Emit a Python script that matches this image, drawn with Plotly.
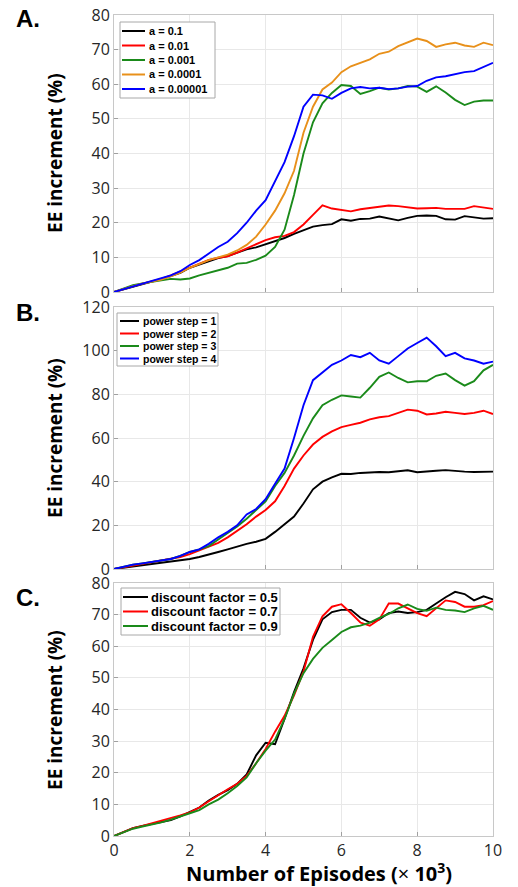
import plotly.graph_objects as go

x_grid = [i * 0.25 for i in range(41)]

# Panel A (learning rate a)
a_labels = ["a = 0.1", "a = 0.01", "a = 0.001", "a = 0.0001", "a = 0.00001"]
a_01 = [0, 0.8, 1.6, 2.3, 3.0, 3.7, 4.5, 5.5, 7.0, 8.0, 9.0, 9.8, 10.4, 11.3, 12.3, 12.9, 13.8, 14.8, 15.6, 16.8,
        17.8, 18.9, 19.3, 19.6, 21.0, 20.6, 21.1, 21.2, 21.8, 21.3, 20.7, 21.4, 22.0, 22.1, 22.0, 21.0, 20.9, 21.9, 21.6, 21.2, 21.3]
a_001 = [0, 0.9, 1.7, 2.4, 3.0, 3.8, 4.8, 5.9, 7.2, 8.3, 9.3, 9.9, 10.3, 11.4, 12.6, 13.8, 15.0, 15.8, 16.2, 17.3,
         19.5, 22.3, 25.0, 24.1, 23.7, 23.3, 23.9, 24.3, 24.6, 25.0, 24.8, 24.4, 24.1, 24.2, 24.3, 24.0, 24.1, 24.0, 24.8, 24.3, 24.0]
a_0001 = [0, 1.0, 2.0, 2.5, 2.9, 3.3, 3.8, 3.6, 3.9, 4.8, 5.5, 6.2, 7.0, 8.2, 8.4, 9.3, 10.5, 13.0, 18.0, 28.0,
          40.0, 49.0, 54.5, 57.5, 59.8, 59.5, 57.2, 58.0, 59.0, 58.5, 58.8, 59.5, 59.3, 57.8, 59.4, 57.6, 55.5, 54.0, 55.0, 55.3, 55.3]
a_00001 = [0, 0.9, 1.7, 2.4, 3.0, 3.6, 4.5, 5.6, 7.0, 8.2, 9.2, 10.0, 10.8, 12.0, 13.6, 16.0, 19.5, 23.5, 28.5, 35.0,
           46.0, 53.5, 58.5, 60.5, 63.5, 65.2, 66.3, 67.2, 68.8, 69.4, 71.0, 72.0, 73.2, 72.5, 70.8, 71.5, 72.0, 71.2, 70.8, 72.0, 71.3]
a_000001 = [0, 0.8, 1.6, 2.3, 3.0, 3.8, 4.8, 6.0, 7.8, 9.2, 11.0, 13.0, 14.5, 17.0, 20.0, 23.5, 26.5, 32.0, 37.5, 45.0,
            53.5, 57.0, 56.8, 55.8, 57.5, 58.8, 59.2, 58.8, 59.0, 58.6, 58.8, 59.3, 59.5, 61.0, 62.0, 62.3, 63.0, 63.5, 63.8, 65.0, 66.2]

# Panel B (power step)
b_labels = ["power step = 1", "power step = 2", "power step = 3", "power step = 4"]
b_ps1 = [0, 0.6, 1.2, 1.8, 2.3, 2.8, 3.3, 4.0, 4.6, 5.5, 6.5, 7.8, 9.0, 10.3, 11.5, 12.5, 13.8, 17.0, 20.5, 24.0,
         30.0, 36.5, 40.0, 42.0, 43.6, 43.5, 44.0, 44.3, 44.4, 44.3, 44.8, 45.2, 44.3, 44.5, 45.0, 45.3, 44.8, 44.6, 44.4, 44.5, 44.6]
b_ps2 = [0, 0.8, 1.6, 2.3, 3.0, 3.7, 4.5, 5.5, 6.8, 8.5, 10.0, 12.0, 14.5, 17.5, 20.5, 24.0, 27.0, 31.0, 38.0, 46.0,
         52.0, 57.0, 60.5, 63.0, 65.0, 66.0, 67.0, 68.5, 69.5, 70.0, 71.5, 73.0, 72.5, 70.8, 71.2, 72.0, 71.5, 71.0, 71.5, 72.5, 71.0]
b_ps3 = [0, 1.0, 2.0, 2.6, 3.2, 3.8, 4.6, 6.0, 7.8, 9.0, 10.5, 13.5, 16.5, 19.5, 23.0, 27.0, 31.0, 38.0, 44.0, 52.0,
         61.0, 69.0, 75.0, 77.5, 79.5, 79.0, 78.5, 83.0, 88.0, 90.0, 87.5, 85.5, 86.0, 86.0, 88.5, 89.5, 86.5, 84.0, 86.0, 91.0, 93.5]
b_ps4 = [0, 1.0, 2.0, 2.6, 3.2, 3.8, 4.6, 6.0, 7.8, 9.0, 11.5, 14.5, 17.0, 20.0, 25.0, 27.5, 32.0, 39.0, 46.0, 60.0,
         75.0, 86.5, 90.0, 93.5, 95.5, 98.0, 97.0, 99.0, 95.5, 94.0, 97.5, 101.0, 103.5, 106.0, 102.0, 97.5, 99.0, 96.5, 95.5, 94.0, 95.0]

# Panel C (discount factor)
c_labels = ["discount factor = 0.5", "discount factor = 0.7", "discount factor = 0.9"]
c_05 = [0, 1.2, 2.5, 3.2, 3.8, 4.5, 5.0, 6.2, 7.6, 9.0, 11.2, 13.0, 14.5, 16.5, 19.5, 25.5, 29.5, 29.0, 37.0, 45.5,
        53.0, 62.0, 68.5, 70.8, 71.5, 71.5, 69.0, 67.5, 68.5, 70.5, 71.0, 70.5, 70.8, 71.5, 73.5, 75.5, 77.2, 76.5, 74.5, 75.8, 74.8]
c_07 = [0, 1.2, 2.5, 3.2, 4.0, 4.8, 5.5, 6.5, 7.5, 9.0, 11.0, 13.0, 14.8, 16.5, 19.0, 23.0, 27.5, 33.0, 38.0, 44.5,
        52.0, 63.0, 69.5, 72.5, 73.3, 70.5, 67.5, 66.5, 68.5, 73.5, 73.5, 72.0, 70.5, 69.5, 72.0, 74.5, 74.0, 72.5, 72.5, 73.0, 74.3]
c_09 = [0, 1.2, 2.3, 3.0, 3.6, 4.3, 5.2, 6.3, 7.2, 8.2, 10.0, 11.5, 13.5, 15.8, 18.5, 23.0, 27.0, 30.5, 37.0, 45.0,
        51.5, 56.0, 59.5, 62.0, 64.5, 66.0, 66.5, 67.5, 69.0, 70.2, 72.0, 73.2, 71.8, 71.2, 72.2, 71.5, 71.3, 70.8, 72.0, 72.8, 71.5]

colors5 = ["#000000", "#FF0000", "#1A8A1A", "#E8901A", "#0000FF"]
colors4 = ["#000000", "#FF0000", "#1A8A1A", "#0000FF"]
colors3 = ["#000000", "#FF0000", "#1A8A1A"]

W, H = 518, 887

fig = go.Figure()
panels = [
    (a_labels, [a_01, a_001, a_0001, a_00001, a_000001], colors5, "x", "y"),
    (b_labels, [b_ps1, b_ps2, b_ps3, b_ps4], colors4, "x2", "y2"),
    (c_labels, [c_05, c_07, c_09], colors3, "x3", "y3"),
]
for labels, series, cols, xa, ya in panels:
    for lab, ys, c in zip(labels, series, cols):
        fig.add_trace(go.Scatter(x=x_grid, y=ys, mode="lines", name=lab, showlegend=False,
                                 line=dict(color=c, width=1.9), xaxis=xa, yaxis=ya))

xl, xr = 114 / W, 493 / W
doms = [(1 - 292 / H, 1 - 15 / H), (1 - 569 / H, 1 - 307 / H), (1 - 836 / H, 1 - 583 / H)]
yranges = [(0, 80, 10), (0, 120, 20), (0, 80, 10)]

tickfont = dict(family="Open Sans", size=16, color="#262626")
axcommon = dict(showline=True, mirror=True, linecolor="#C8C8C8", linewidth=1,
                showgrid=True, gridcolor="#E8E8E8", gridwidth=1, zeroline=False,
                ticks="inside", ticklen=4, tickcolor="#A0A0A0", tickfont=tickfont,
                automargin=False)

layout = dict(width=W, height=H, margin=dict(l=0, r=0, t=0, b=0, pad=0, autoexpand=False),
              paper_bgcolor="white", plot_bgcolor="white", showlegend=False)
for k, (dom, yr) in enumerate(zip(doms, yranges)):
    sfx = "" if k == 0 else str(k + 1)
    layout["xaxis" + sfx] = dict(domain=[xl, xr], range=[0, 10], dtick=2, tick0=0,
                                 anchor="y" + sfx, showticklabels=(k == 2), **axcommon)
    layout["yaxis" + sfx] = dict(domain=list(dom), range=[yr[0], yr[1]], dtick=yr[2], tick0=0,
                                 anchor="x" + sfx, **axcommon)
fig.update_layout(**layout)

shapes = []
anns = []

# Manual legends (box, line samples, labels) in paper pixels
legends = [
    (a_labels, colors5, (120, 215, 22, 98), [31, 45.5, 60, 74.5, 89], (122, 145), 147, 11),
    (b_labels, colors4, (117, 218, 313, 366), [321, 333.5, 346, 358.5], (120, 139), 141, 10.5),
    (c_labels, colors3, (121, 280, 588, 635), [597, 611.5, 626], (123, 148), 149, 13),
]
for labels, cols, (bx0, bx1, by0, by1), rows, (lx0, lx1), tx, fs in legends:
    shapes.append(dict(type="rect", xref="paper", yref="paper", x0=bx0 / W, x1=bx1 / W,
                       y0=1 - by1 / H, y1=1 - by0 / H, line=dict(color="#A8A8A8", width=1),
                       fillcolor="white", layer="above"))
    for lab, c, ry in zip(labels, cols, rows):
        shapes.append(dict(type="line", xref="paper", yref="paper", x0=lx0 / W, x1=lx1 / W,
                           y0=1 - ry / H, y1=1 - ry / H, line=dict(color=c, width=2), layer="above"))
        anns.append(dict(text="<b>" + lab + "</b>", x=tx / W, y=1 - ry / H, xref="paper", yref="paper",
                         xanchor="left", yanchor="middle", showarrow=False,
                         font=dict(family="Liberation Sans, Arial", size=fs, color="#000")))

for lab, yp in [("A.", 18), ("B.", 312), ("C.", 597)]:
    anns.append(dict(text="<b>" + lab + "</b>", x=14 / W, y=1 - yp / H, xref="paper", yref="paper",
                     xanchor="left", yanchor="middle", showarrow=False,
                     font=dict(family="Liberation Sans, Arial", size=24, color="#000")))
for yc in [153, 438, 710]:
    anns.append(dict(text="<b>EE increment (%)</b>", x=55 / W, y=1 - yc / H, xref="paper", yref="paper",
                     xanchor="center", yanchor="middle", showarrow=False, textangle=-90,
                     font=dict(family="Open Sans", size=19, color="#000")))
anns.append(dict(text="<b>Number of Episodes (</b>×<b> 10<sup>3</sup>)</b>", x=319 / W, y=1 - 872 / H,
                 xref="paper", yref="paper", xanchor="center", yanchor="middle", showarrow=False,
                 font=dict(family="Open Sans", size=20, color="#000")))
fig.update_layout(annotations=anns, shapes=shapes)

fig.write_html("out.html", config={"displayModeBar": False},
               post_script="document.body.style.margin='0px';document.body.style.overflow='hidden';")
